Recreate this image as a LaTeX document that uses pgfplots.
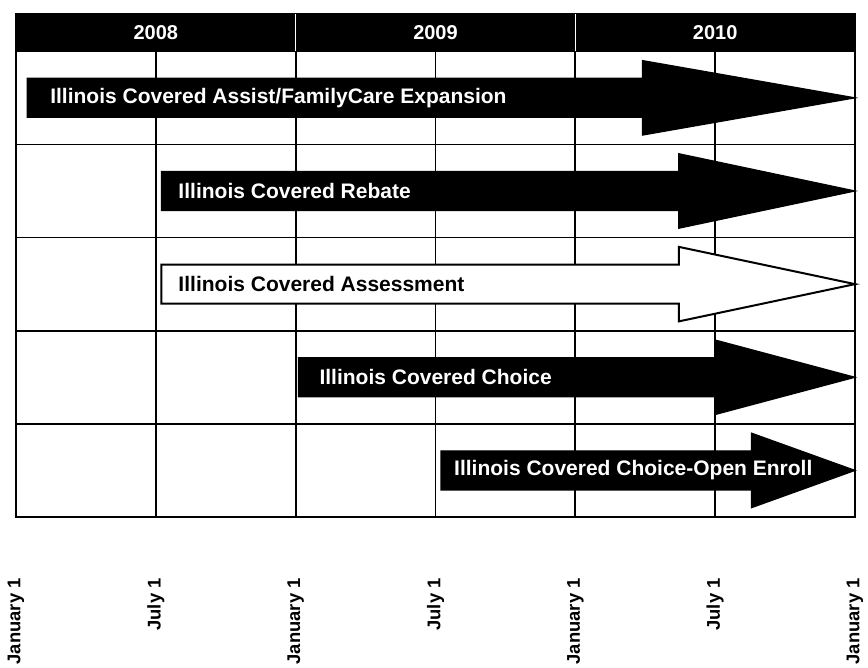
\documentclass[border=0pt]{standalone}
\usepackage{pgfplots}
\pgfplotsset{compat=1.18}
\usepackage{fontspec}
\setmainfont{Liberation Sans}

\begin{document}
\begin{tikzpicture}
  \begin{axis}[
    scale only axis,
    width=419.5pt,
    height=251.5pt,
    xmin=2008, xmax=2011,
    ymin=0, ymax=5.4,
    xtick={2008,2008.5,2009,2009.5,2010,2010.5,2011},
    xticklabels={January 1,July 1,January 1,July 1,January 1,July 1,January 1},
    xticklabel style={rotate=90, anchor=east, xshift=-30pt, inner sep=0.5pt,
      font=\bfseries\fontsize{9.2}{11}\selectfont},
    ytick={0,1,2,3,4,5},
    yticklabels={},
    major tick length=0pt,
    xmajorgrids, ymajorgrids,
    grid style={black, line width=0.9pt},
    axis line style={black, line width=1pt},
    clip=false,
  ]

  % header band
  \addplot[fill=black, draw=none] coordinates {(2008,5) (2011,5) (2011,5.4) (2008,5.4)} --cycle;
  \addplot[white, line width=0.5pt] coordinates {(2009,5) (2009,5.4)};
  \addplot[white, line width=0.5pt] coordinates {(2010,5) (2010,5.4)};
  \node[white, font=\bfseries\fontsize{10}{12}\selectfont] at (axis cs:2008.5,5.2) {2008};
  \node[white, font=\bfseries\fontsize{10}{12}\selectfont] at (axis cs:2009.5,5.2) {2009};
  \node[white, font=\bfseries\fontsize{10}{12}\selectfont] at (axis cs:2010.5,5.2) {2010};

  % arrows: start, head base, row centre
  % Illinois Covered Assist/FamilyCare Expansion
  \addplot[fill=black, draw=black, line width=0.6pt] coordinates {
    (2008.04,4.29) (2010.24,4.29) (2010.24,4.10) (2011,4.5)
    (2010.24,4.90) (2010.24,4.71) (2008.04,4.71)} --cycle;
  % Illinois Covered Rebate
  \addplot[fill=black, draw=black, line width=0.6pt] coordinates {
    (2008.52,3.29) (2010.37,3.29) (2010.37,3.10) (2011,3.5)
    (2010.37,3.90) (2010.37,3.71) (2008.52,3.71)} --cycle;
  % Illinois Covered Assessment
  \addplot[fill=white, draw=black, line width=1pt] coordinates {
    (2008.52,2.29) (2010.37,2.29) (2010.37,2.10) (2011,2.5)
    (2010.37,2.90) (2010.37,2.71) (2008.52,2.71)} --cycle;
  % Illinois Covered Choice
  \addplot[fill=black, draw=black, line width=0.6pt] coordinates {
    (2009.01,1.29) (2010.50,1.29) (2010.50,1.10) (2011,1.5)
    (2010.50,1.90) (2010.50,1.71) (2009.01,1.71)} --cycle;
  % Illinois Covered Choice-Open Enroll
  \addplot[fill=black, draw=black, line width=0.6pt] coordinates {
    (2009.52,0.29) (2010.63,0.29) (2010.63,0.10) (2011,0.5)
    (2010.63,0.90) (2010.63,0.71) (2009.52,0.71)} --cycle;

  \begin{scope}[every node/.style={anchor=west, font=\bfseries\fontsize{10.5}{12}\selectfont}]
    \node[white] at (axis cs:2008.04,4.5) [xshift=8pt] {Illinois Covered Assist/FamilyCare Expansion};
    \node[white] at (axis cs:2008.52,3.5) [xshift=5pt] {Illinois Covered Rebate};
    \node[black] at (axis cs:2008.52,2.5) [xshift=5pt] {Illinois Covered Assessment};
    \node[white] at (axis cs:2009.01,1.5) [xshift=7pt] {Illinois Covered Choice};
    \node[white] at (axis cs:2009.52,0.5) [xshift=3pt] {Illinois Covered Choice-Open Enroll};
  \end{scope}
  \end{axis}
  \pgfresetboundingbox
  \path[use as bounding box] ([xshift=-8pt,yshift=-75.5pt]current axis.south west)
    rectangle ([xshift=6.5pt,yshift=7pt]current axis.north east);
\end{tikzpicture}
\end{document}
